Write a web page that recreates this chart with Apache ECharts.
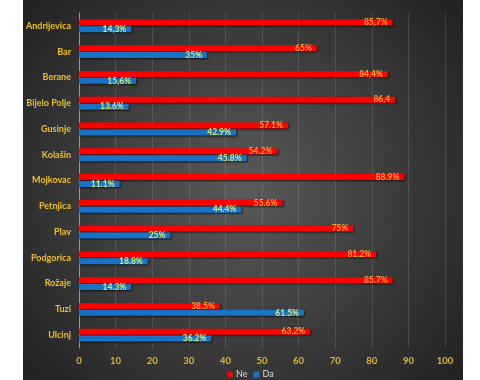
<!DOCTYPE html>
<html>
<head>
<meta charset="utf-8">
<script src="https://cdn.jsdelivr.net/npm/echarts@6/dist/echarts.min.js"></script>
<style>
html,body{margin:0;padding:0;background:#fff;}
#chart{width:480px;height:380px;}
</style>
</head>
<body>
<div id="chart"></div>
<script>
const categories = ["Andrijevica","Bar","Berane","Bijelo Polje","Gusinje","Kolašin","Mojkovac","Petnjica","Plav","Podgorica","Rožaje","Tuzi","Ulcinj"];
const neValues = [85.7,65,84.4,86.4,57.1,54.2,88.9,55.6,75,81.2,85.7,38.5,63.2];
const daValues = [14.3,35,15.6,13.6,42.9,45.8,11.1,44.4,25,18.8,14.3,61.5,36.2];
const neLabels = ["85,7%","65%","84,4%","86,4","57.1%","54.2%","88.9%","55.6%","75%","81.2%","85.7%","38.5%","63.2%"];
const daLabels = ["14,3%","35%","15,6%","13.6%","42.9%","45.8%","11.1%","44.4%","25%","18.8%","14.3%","61.5%","36.2%"];
const xTicks = {min:0, max:100, interval:10};

const chart = echarts.init(document.getElementById('chart'), null, {renderer:'canvas'});
const font = 'Lato, "Open Sans", sans-serif';
const shadow = {shadowBlur:2, shadowColor:'rgba(0,0,0,0.7)', shadowOffsetX:1, shadowOffsetY:1};
chart.setOption({
  backgroundColor:'#ffffff',
  animation:false,
  graphic:[{
    type:'rect', z:-10, silent:true,
    shape:{x:23,y:0,width:440,height:380},
    style:{fill:new echarts.graphic.RadialGradient(0.5,0.5,0.75,[
      {offset:0,color:'#5a5a5a'},{offset:1,color:'#222222'}])}
  }],
  grid:{left:79,right:35,top:13,bottom:32,containLabel:false},
  legend:{
    top:365, left:222, itemWidth:6, itemHeight:6, itemGap:6,
    textStyle:{color:'#dddddd',fontSize:9,fontFamily:font,padding:[0,0,0,-2]},
    data:[{name:'Ne',icon:'circle'},{name:'Da',icon:'rect'}]
  },
  xAxis:{
    type:'value', min:xTicks.min, max:xTicks.max, interval:xTicks.interval,
    axisLine:{show:false}, axisTick:{show:false},
    splitLine:{show:true,lineStyle:{color:'rgba(255,255,255,0.13)',width:1}},
    axisLabel:{color:'#e8b820',fontSize:9.5,fontWeight:'bold',fontFamily:font,margin:8}
  },
  yAxis:{
    type:'category', data:categories, inverse:true,
    axisLine:{show:true,lineStyle:{color:'#9a9a9a',width:1}},
    axisTick:{show:false},
    axisLabel:{color:'#f0c020',fontSize:9,fontWeight:'bold',fontFamily:font,margin:8}
  },
  series:[
    {name:'Ne', type:'bar', data:neValues, barWidth:6, barGap:'15%',
     itemStyle:Object.assign({color:'#ff0000'},shadow),
     label:{show:true,position:'insideRight',color:'#f8a838',fontSize:8.5,fontWeight:'bold',fontFamily:font,
       formatter:p=>neLabels[p.dataIndex]}},
    {name:'Da', type:'bar', data:daValues, barWidth:6, barGap:'15%',
     itemStyle:Object.assign({color:'#1a72c4'},shadow),
     label:{show:true,position:'insideRight',color:'#d8e878',fontSize:8.5,fontWeight:'bold',fontFamily:font,
       formatter:p=>daLabels[p.dataIndex]}}
  ]
});
</script>
</body>
</html>
